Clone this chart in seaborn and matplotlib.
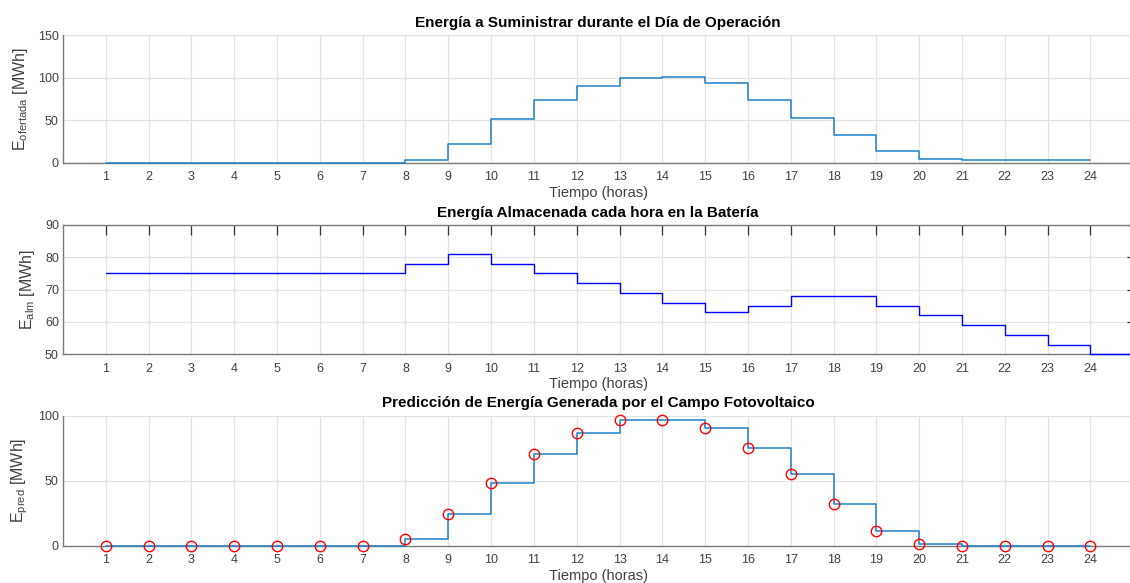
import numpy as np
import pandas as pd
import matplotlib
matplotlib.use("Agg")
import matplotlib.pyplot as plt
import seaborn as sns

# ── datos ──────────────────────────────────────────────────────────────────
horas = list(range(1, 25))
horas_alm = list(range(1, 26))

e_ofertada = [0, 0, 0, 0, 0, 0, 0, 2.7, 22.2, 51.4, 73.9, 89.9,
              100, 100.8, 93.4, 73.9, 52.5, 32.3, 14, 4.3, 2.7, 2.7, 2.7, 2.7]

e_alm = [75, 75, 75, 75, 75, 75, 75, 78, 81, 78, 75, 72,
         69, 66, 63, 65, 68, 68, 65, 62, 59, 56, 53, 50, 50]

e_pred = [0, 0, 0, 0, 0, 0, 0, 5.5, 24.5, 47.9, 70.6, 86.6,
          96.9, 96.9, 90.2, 75, 54.9, 32.2, 11.1, 1.3, 0, 0, 0, 0]

titulos = ["Energía a Suministrar durante el Día de Operación",
           "Energía Almacenada cada hora en la Batería",
           "Predicción de Energía Generada por el Campo Fotovoltaico"]
ylabels = [r"E$_{\mathregular{ofertada}}$ [MWh]",
           r"E$_{\mathregular{alm}}$ [MWh]",
           r"E$_{\mathregular{pred}}$ [MWh]"]

sns.set_theme(style="white")
plt.rcParams["font.family"] = ["Liberation Sans", "DejaVu Sans"]
plt.rcParams["mathtext.fontset"] = "custom"
plt.rcParams["mathtext.rm"] = "Liberation Sans"

MATLAB_BLUE = "#1f7fc8"
AXIS_GRAY = "#7a7a7a"
TEXT_GRAY = "#404040"

fig = plt.figure(figsize=(11.3, 5.83), dpi=100)
left, width = 0.0558, 0.947
ax_top = fig.add_axes([left, 0.7209, width, 0.2190])
ax_mid = fig.add_axes([left, 0.3923, width, 0.2218])
ax_bot = fig.add_axes([left, 0.0640, width, 0.2230])

df_top = pd.DataFrame({"hora": horas, "E": e_ofertada})
df_mid = pd.DataFrame({"hora": horas_alm, "E": e_alm})
df_bot = pd.DataFrame({"hora": horas, "E": e_pred})

sns.lineplot(data=df_top, x="hora", y="E", drawstyle="steps-post",
             color=MATLAB_BLUE, linewidth=1.1, ax=ax_top, zorder=5, clip_on=False)
sns.lineplot(data=df_mid, x="hora", y="E", drawstyle="steps-post",
             color="#0000ff", linewidth=1.0, ax=ax_mid, zorder=5, clip_on=False)
sns.lineplot(data=df_bot, x="hora", y="E", drawstyle="steps-post",
             color=MATLAB_BLUE, linewidth=1.1, ax=ax_bot, zorder=5, clip_on=False)
sns.lineplot(data=df_bot, x="hora", y="E", marker="o", linestyle="",
             markersize=7.5, markerfacecolor="none", markeredgecolor="#ff0000",
             markeredgewidth=1.0, color="#ff0000", ax=ax_bot, zorder=6, clip_on=False)

ylims = [(0, 150), (50, 90), (0, 100)]
yticks = [[0, 50, 100, 150], [50, 60, 70, 80, 90], [0, 50, 100]]
box = [False, True, False]

for ax, tit, yl, lim, yt, b in zip([ax_top, ax_mid, ax_bot], titulos, ylabels,
                                   ylims, yticks, box):
    ax.set_xlim(0, 25)
    ax.set_ylim(*lim)
    ax.set_xticks(horas)
    ax.set_yticks(yt)
    ax.grid(True, color="#e3e3e3", linewidth=0.9)
    ax.set_axisbelow(True)
    ax.set_title(tit, fontsize=11, fontweight="bold", color="black", pad=6)
    ax.set_xlabel("Tiempo (horas)", fontsize=10.5, color=TEXT_GRAY, labelpad=2)
    ax.set_ylabel(yl, fontsize=11.5, color=TEXT_GRAY, labelpad=6)
    for s in ["left", "bottom"]:
        ax.spines[s].set_color(AXIS_GRAY)
        ax.spines[s].set_linewidth(1.0)
    for s in ["top", "right"]:
        ax.spines[s].set_visible(b)
        ax.spines[s].set_color(AXIS_GRAY)
        ax.spines[s].set_linewidth(1.0)
    ax.tick_params(axis="x", direction="in", length=7, width=0.9, color="#333333",
                   labelsize=9, labelcolor=TEXT_GRAY, pad=6, top=b)
    ax.tick_params(axis="y", direction="in", length=4, width=0.9, color="#333333",
                   labelsize=9, labelcolor=TEXT_GRAY, pad=3, right=b)

fig.savefig("out.png", dpi=100, facecolor="white")
